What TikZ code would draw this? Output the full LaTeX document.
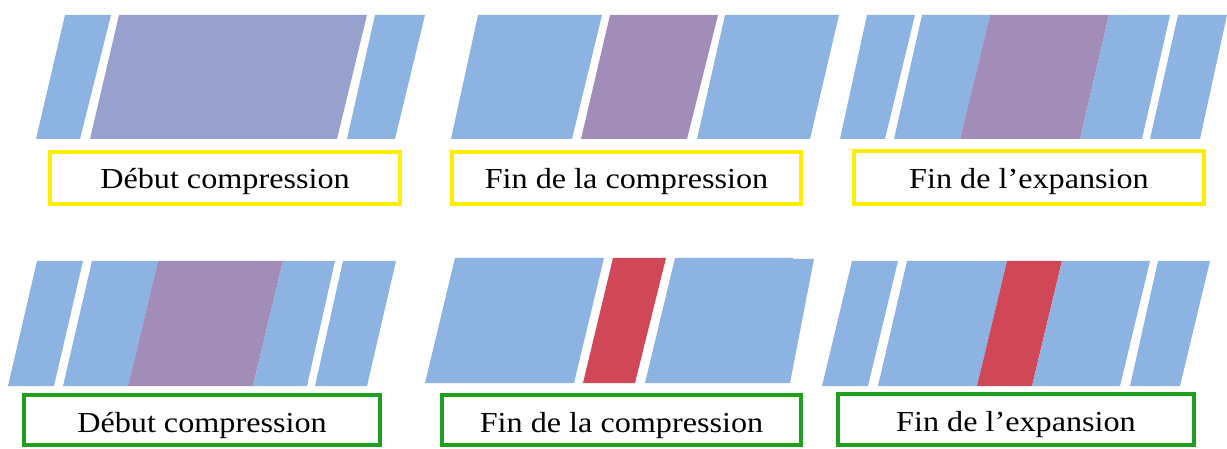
\documentclass[tikz,border=0pt]{standalone}
\usepackage{fontspec}
\setmainfont[FakeStretch=1.11]{Liberation Serif}
\definecolor{cblue}{HTML}{8DB3E2}
\definecolor{cpurpA}{HTML}{98A0CE}
\definecolor{cpurpB}{HTML}{A28CB8}
\definecolor{cred}{HTML}{D04858}
\definecolor{cyel}{HTML}{FFEE00}
\definecolor{cgreen}{HTML}{1EA01E}
\begin{document}
\begin{tikzpicture}[x=1pt,y=-1pt,
  lab/.style={draw,line width=4pt,fill=white,inner sep=0pt,
    font=\fontsize{29}{32}\selectfont,text=black},
  yel/.style={lab,draw=cyel,text height=25pt,text depth=3pt},
  grn/.style={lab,draw=cgreen,text height=26pt,text depth=2pt}]
\useasboundingbox (0,0) rectangle (1227,449);
% ---- top row ----
% panel 1
\fill[cblue]  (36,139)--(80,139)--(111,15)--(65,15)--cycle;
\fill[cpurpA] (90,139)--(337,139)--(367,15)--(119,15)--cycle;
\fill[cblue]  (347,139)--(395,139)--(425,15)--(375,15)--cycle;
% panel 2
\fill[cblue]  (451,139)--(572,139)--(602,15)--(478,15)--cycle;
\fill[cpurpB] (581,139)--(687,139)--(718,15)--(610,15)--cycle;
\fill[cblue]  (697,139)--(810,139)--(839,15)--(725,15)--cycle;
% panel 3
\fill[cblue]  (840,139)--(885,139)--(915,15)--(867,15)--cycle;
\fill[cblue]  (894,139)--(960,139)--(990,15)--(922,15)--cycle;
\fill[cpurpB] (960,139)--(1080,139)--(1109,15)--(990,15)--cycle;
\fill[cblue]  (1080,139)--(1142,139)--(1170,15)--(1109,15)--cycle;
\fill[cblue]  (1150,139)--(1200,139)--(1227,15)--(1178,15)--cycle;
% ---- bottom row ----
% panel 4
\fill[cblue]  (8,386)--(54,386)--(83,261)--(37,261)--cycle;
\fill[cblue]  (63,386)--(128,386)--(158,261)--(92,261)--cycle;
\fill[cpurpB] (128,386)--(253,386)--(283,261)--(158,261)--cycle;
\fill[cblue]  (253,386)--(307,386)--(335,261)--(283,261)--cycle;
\fill[cblue]  (315,386)--(367,386)--(396,261)--(343,261)--cycle;
% panel 5
\fill[cblue]  (425,383)--(574,383)--(604,258)--(455,258)--cycle;
\fill[cred]   (583,383)--(635,383)--(666,258)--(613,258)--cycle;
\fill[cblue]  (645,383)--(790,383)--(814,259)--(793,259)--(793,258)--(675,258)--cycle;
% panel 6
\fill[cblue]  (822,386)--(868,386)--(898,261)--(852,261)--cycle;
\fill[cblue]  (878,386)--(977,386)--(1007,261)--(907,261)--cycle;
\fill[cred]   (977,386)--(1032,386)--(1062,261)--(1007,261)--cycle;
\fill[cblue]  (1032,386)--(1120,386)--(1150,261)--(1062,261)--cycle;
\fill[cblue]  (1130,386)--(1180,386)--(1210,261)--(1158,261)--cycle;
% ---- labels ----
\node[yel,minimum width=350pt,minimum height=52pt] (l1) at (225,178) {Début compression};
\node[yel,minimum width=349pt,minimum height=52pt] (l2) at (626.5,178) {Fin de la compression};
\node[yel,minimum width=350pt,minimum height=53pt] (l3) at (1029,177.5) {Fin de l’expansion};
\node[grn,minimum width=356pt,minimum height=50pt] (l4) at (202,420) {Début compression};
\node[grn,minimum width=359pt,minimum height=50pt] (l5) at (621.5,420) {Fin de la compression};
\node[grn,minimum width=356pt,minimum height=51pt] (l6) at (1016,419.5) {Fin de l’expansion};
\end{tikzpicture}
\end{document}
